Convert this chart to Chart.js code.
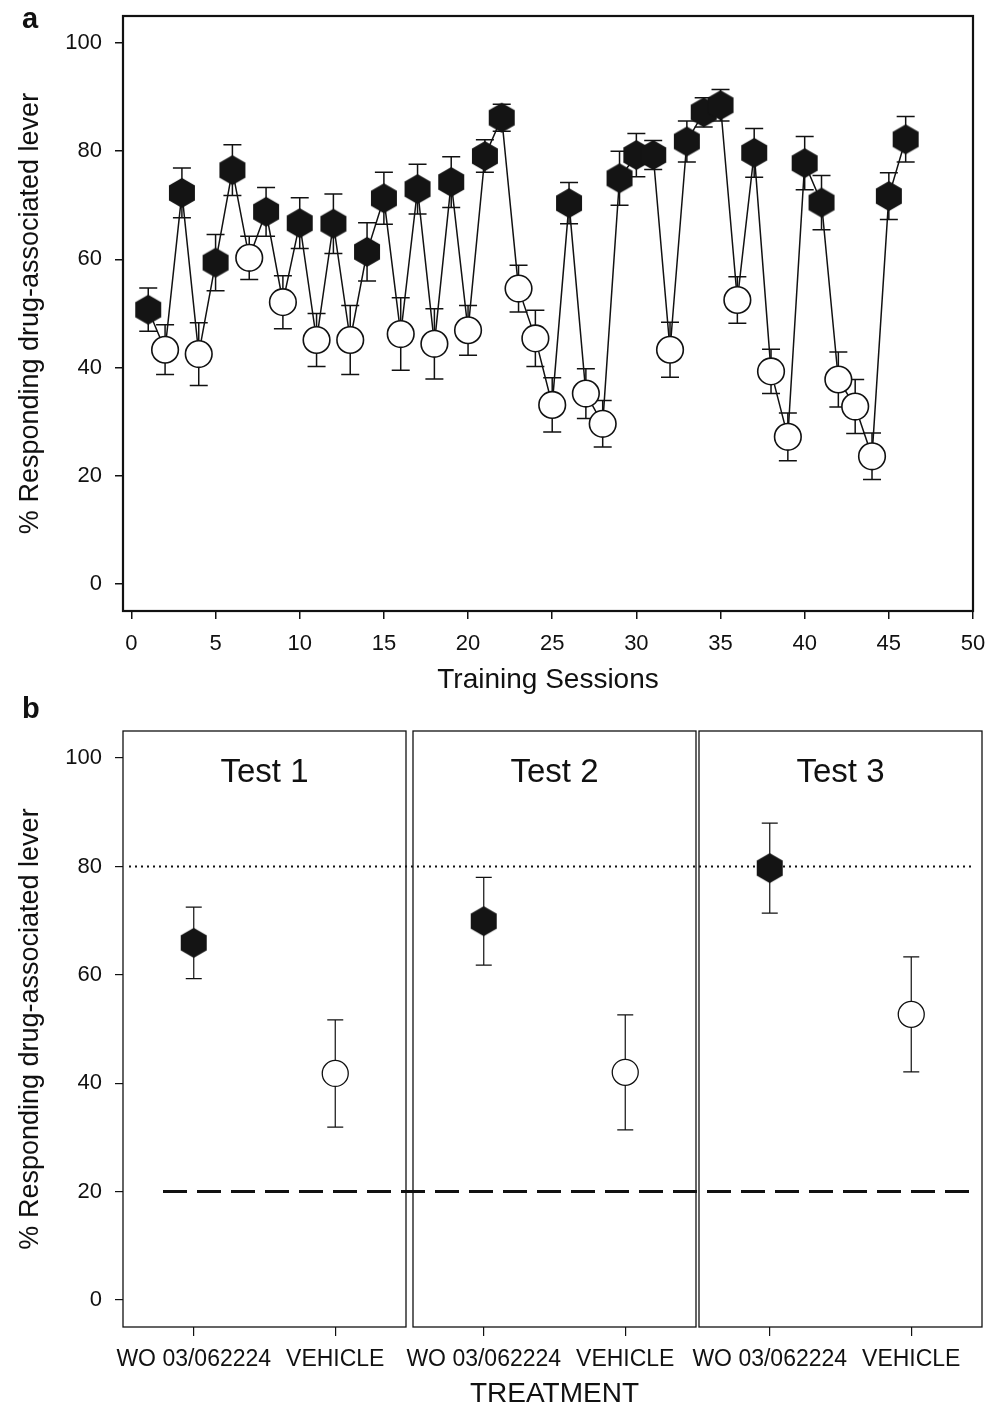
<!DOCTYPE html>
<html>
<head>
<meta charset="utf-8">
<script src="https://cdn.jsdelivr.net/npm/chart.js@4.4.1/dist/chart.umd.min.js"></script>
<style>
  html, body { margin: 0; padding: 0; background: #fff; }
  #wrap { position: relative; width: 998px; height: 1408px; overflow: hidden; }
  canvas { position: absolute; left: 0; }
  .tag { position: absolute; left: 22px; font: bold 29px 'Liberation Sans', Arial, sans-serif; line-height: 29px; color: #111; }
</style>
</head>
<body>
<div id="wrap">
  <canvas id="chartA" width="998" height="700" style="top:0"></canvas>
  <canvas id="chartB1" width="998" height="708" style="top:700px"></canvas>
  <canvas id="chartB2" width="998" height="708" style="top:700px"></canvas>
  <canvas id="chartB3" width="998" height="708" style="top:700px"></canvas>
  <div class="tag" style="top:4px">a</div>
  <div class="tag" style="top:694px">b</div>
</div>
<script>
// panel a - training sessions
const drugSessions = [1, 3, 5, 6, 8, 10, 12, 14, 15, 17, 19, 21, 22, 26, 29, 30, 31, 33, 34, 35, 37, 40, 41, 45, 46];
const drugMeans = [50.7, 72.3, 59.4, 76.5, 68.8, 66.7, 66.6, 61.4, 71.3, 73.0, 74.3, 79.1, 86.2, 70.4, 75.0, 79.3, 79.3, 81.8, 87.2, 88.5, 79.7, 77.8, 70.5, 71.7, 82.2];
const drugSem = [4.0, 4.6, 5.2, 4.7, 4.5, 4.7, 5.5, 5.4, 4.8, 4.6, 4.7, 3.0, 2.5, 3.8, 5.0, 4.0, 2.7, 3.8, 2.7, 2.9, 4.5, 4.9, 5.0, 4.3, 4.2];

const vehSessions = [2, 4, 7, 9, 11, 13, 16, 18, 20, 23, 24, 25, 27, 28, 32, 36, 38, 39, 42, 43, 44];
const vehMeans = [43.3, 42.5, 60.3, 52.1, 45.1, 45.1, 46.2, 44.4, 46.9, 54.6, 45.4, 33.1, 35.2, 29.6, 43.3, 52.5, 39.3, 27.2, 37.8, 32.8, 23.6];
const vehSem = [4.6, 5.8, 4.0, 4.9, 4.9, 6.4, 6.7, 6.5, 4.6, 4.3, 5.2, 5.0, 4.6, 4.3, 5.1, 4.3, 4.1, 4.4, 5.1, 5.0, 4.3];

const sessionTicks = [0, 5, 10, 15, 20, 25, 30, 35, 40, 45, 50];
const percentTicks = [0, 20, 40, 60, 80, 100];

// panel b - substitution tests
const testNames = ['Test 1', 'Test 2', 'Test 3'];
const treatmentLabels = ['WO 03/062224', 'VEHICLE'];
const woMeans = [65.9, 69.9, 79.7];
const woSem = [6.6, 8.1, 8.3];
const vehTestMeans = [41.8, 42.0, 52.7];
const vehTestSem = [9.9, 10.6, 10.6];
const drugCriterion = 80;
const vehicleCriterion = 20;

const FONT = "'Liberation Sans', Arial, Helvetica, sans-serif";
const INK = '#111';

function hexagon(r, fill) {
    const c = document.createElement('canvas');
    const s = Math.ceil(r * 2 + 2);
    c.width = s; c.height = s;
    const g = c.getContext('2d');
    g.beginPath();
    for (let k = 0; k < 6; k++) {
        const a = Math.PI / 2 + k * Math.PI / 3;
        const px = s / 2 + r * Math.cos(a), py = s / 2 - r * Math.sin(a);
        if (k) g.lineTo(px, py); else g.moveTo(px, py);
    }
    g.closePath();
    g.fillStyle = fill;
    g.fill();
    return c;
}
const hexImg = hexagon(15, '#141414');

// error bars (mean +/- sem), drawn under the markers
const errorBars = {
    id: 'errorBars',
    beforeDatasetsDraw(chart, args, o) {
        const ctx = chart.ctx, ys = chart.scales.y;
        chart.data.datasets.forEach((ds, i) => {
            if (!ds.errors) return;
            chart.getDatasetMeta(i).data.forEach((pt, j) => {
                const raw = ds.data[j];
                const v = (raw && typeof raw === 'object') ? raw.y : raw;
                if (v == null) return;
                const e = ds.errors[j];
                const t = ys.getPixelForValue(v + e), b = ys.getPixelForValue(v - e);
                ctx.save();
                ctx.strokeStyle = INK;
                ctx.lineWidth = o.width;
                ctx.beginPath();
                ctx.moveTo(pt.x, t); ctx.lineTo(pt.x, b);
                ctx.moveTo(pt.x - o.cap / 2, t); ctx.lineTo(pt.x + o.cap / 2, t);
                ctx.moveTo(pt.x - o.cap / 2, b); ctx.lineTo(pt.x + o.cap / 2, b);
                ctx.stroke();
                ctx.restore();
            });
        });
    }
};

// box round the plot area, plus an optional heading inside it
const frame = {
    id: 'frame',
    afterDatasetsDraw(chart, args, o) {
        const ctx = chart.ctx, a = chart.chartArea;
        ctx.save();
        ctx.strokeStyle = INK;
        ctx.lineWidth = o.width;
        ctx.strokeRect(a.left, a.top, a.right - a.left, a.bottom - a.top);
        if (o.heading) {
            ctx.fillStyle = INK;
            ctx.font = '33px ' + FONT;
            ctx.textAlign = 'center';
            ctx.textBaseline = 'alphabetic';
            ctx.fillText(o.heading, (a.left + a.right) / 2, a.top + 51);
        }
        ctx.restore();
    }
};

// criterion lines across the whole of panel b
const criteria = {
    id: 'criteria',
    beforeDatasetsDraw(chart, args, o) {
        if (!o.lines) return;
        const ctx = chart.ctx, ys = chart.scales.y;
        o.lines.forEach(l => {
            const y = ys.getPixelForValue(l.value);
            ctx.save();
            ctx.strokeStyle = INK;
            ctx.lineWidth = l.width;
            ctx.setLineDash(l.dash);
            ctx.beginPath();
            ctx.moveTo(l.from, y);
            ctx.lineTo(l.to, y);
            ctx.stroke();
            ctx.restore();
        });
    }
};

const axisGrid = (w, len) => ({ display: true, drawOnChartArea: false, drawTicks: true, tickLength: len, color: INK, lineWidth: w, offset: false });

// fixed axis size, and no extra room kept for labels at the ends
const fixSize = (key, size) => s => {
    s[key] = size;
    s.paddingTop = s.paddingBottom = s.paddingLeft = s.paddingRight = 0;
};

// ---------- panel a ----------
const drugPts = drugSessions.map((s, k) => ({ x: s, y: drugMeans[k] }));
const vehPts = vehSessions.map((s, k) => ({ x: s, y: vehMeans[k] }));
const allPts = drugPts.concat(vehPts).sort((p, q) => p.x - q.x);

new Chart(document.getElementById('chartA'), {
    type: 'scatter',
    data: {
        datasets: [
            { label: 'sessions', data: allPts, showLine: true, borderColor: INK, borderWidth: 1.5, pointRadius: 0, order: 3 },
            { label: 'WO 03/062224', data: drugPts, errors: drugSem, pointStyle: hexImg, pointRadius: 15, order: 1 },
            { label: 'Vehicle', data: vehPts, errors: vehSem, pointStyle: 'circle', pointRadius: 13.3,
              backgroundColor: '#fff', borderColor: INK, borderWidth: 1.6, order: 2 }
        ]
    },
    options: {
        responsive: false,
        animation: false,
        layout: { padding: { left: 0, top: 16, right: 25, bottom: 0 } },
        plugins: {
            legend: { display: false },
            tooltip: { enabled: false },
            errorBars: { cap: 18, width: 1.5 },
            frame: { width: 2.2 }
        },
        scales: {
            x: {
                type: 'linear', min: -0.5, max: 50,
                afterBuildTicks: s => { s.ticks = sessionTicks.map(v => ({ value: v })); },
                afterFit: fixSize('height', 89),
                grid: axisGrid(1.5, 8),
                border: { display: false },
                ticks: { font: { family: FONT, size: 22 }, color: INK, padding: 12, maxRotation: 0, autoSkip: false },
                title: { display: true, text: 'Training Sessions', color: INK, font: { family: FONT, size: 28 }, padding: { top: 0, bottom: 3 } }
            },
            y: {
                type: 'linear', min: -5, max: 105,
                afterBuildTicks: s => { s.ticks = percentTicks.map(v => ({ value: v })); },
                afterFit: fixSize('width', 123),
                grid: axisGrid(1.5, 8),
                border: { display: false },
                ticks: { font: { family: FONT, size: 22 }, color: INK, padding: 13 },
                title: { display: true, text: '% Responding drug-associated lever', color: INK, font: { family: FONT, size: 27 }, padding: { top: 14, bottom: 0 } }
            }
        }
    },
    plugins: [errorBars, frame]
});

// ---------- panel b ----------
const hexImgB = hexagon(15, '#141414');
const panelsB = [{ left: 123, right: 406 }, { left: 413, right: 696 }, { left: 699, right: 983 }];

function testChart(canvasId, i) {
    const area = panelsB[i];
    const first = i === 0;
    return new Chart(document.getElementById(canvasId), {
        type: 'line',
        data: {
            labels: treatmentLabels,
            datasets: [
                { label: 'WO 03/062224', data: [woMeans[i], null], errors: [woSem[i], null], showLine: false,
                  pointStyle: hexImgB, pointRadius: 15 },
                { label: 'Vehicle', data: [null, vehTestMeans[i]], errors: [null, vehTestSem[i]], showLine: false,
                  pointStyle: 'circle', pointRadius: 13, backgroundColor: '#fff', borderColor: INK, borderWidth: 1.3 }
            ]
        },
        options: {
            responsive: false,
            animation: false,
            layout: { padding: { left: first ? 0 : area.left, top: 31, right: 998 - area.right, bottom: 0 } },
            plugins: {
                legend: { display: false },
                tooltip: { enabled: false },
                errorBars: { cap: 16, width: 1.2 },
                frame: { width: 1.3, heading: testNames[i] },
                criteria: first ? {
                    lines: [
                        { value: drugCriterion, dash: [2, 4], width: 2, from: 129, to: 973 },
                        { value: vehicleCriterion, dash: [24, 10], width: 3, from: 163, to: 970 }
                    ]
                } : {}
            },
            scales: {
                x: {
                    type: 'category', offset: true,
                    afterFit: fixSize('height', 81),
                    grid: axisGrid(1.2, 9),
                    border: { display: false },
                    ticks: { font: { family: FONT, size: 23 }, color: INK, padding: 10, maxRotation: 0, autoSkip: false },
                    title: { display: i === 1, text: 'TREATMENT', color: INK, font: { family: FONT, size: 28, lineHeight: 1 }, padding: { top: 0, bottom: 0 } }
                },
                y: {
                    display: first,
                    type: 'linear', min: -5, max: 105,
                    afterBuildTicks: s => { s.ticks = percentTicks.map(v => ({ value: v })); },
                    afterFit: first ? fixSize('width', area.left) : undefined,
                    grid: axisGrid(1.2, 8),
                    border: { display: false },
                    ticks: { font: { family: FONT, size: 22 }, color: INK, padding: 13 },
                    title: { display: true, text: '% Responding drug-associated lever', color: INK, font: { family: FONT, size: 27 }, padding: { top: 14, bottom: 0 } }
                }
            }
        },
        plugins: [criteria, errorBars, frame]
    });
}

testChart('chartB1', 0);
testChart('chartB2', 1);
testChart('chartB3', 2);
</script>
</body>
</html>
